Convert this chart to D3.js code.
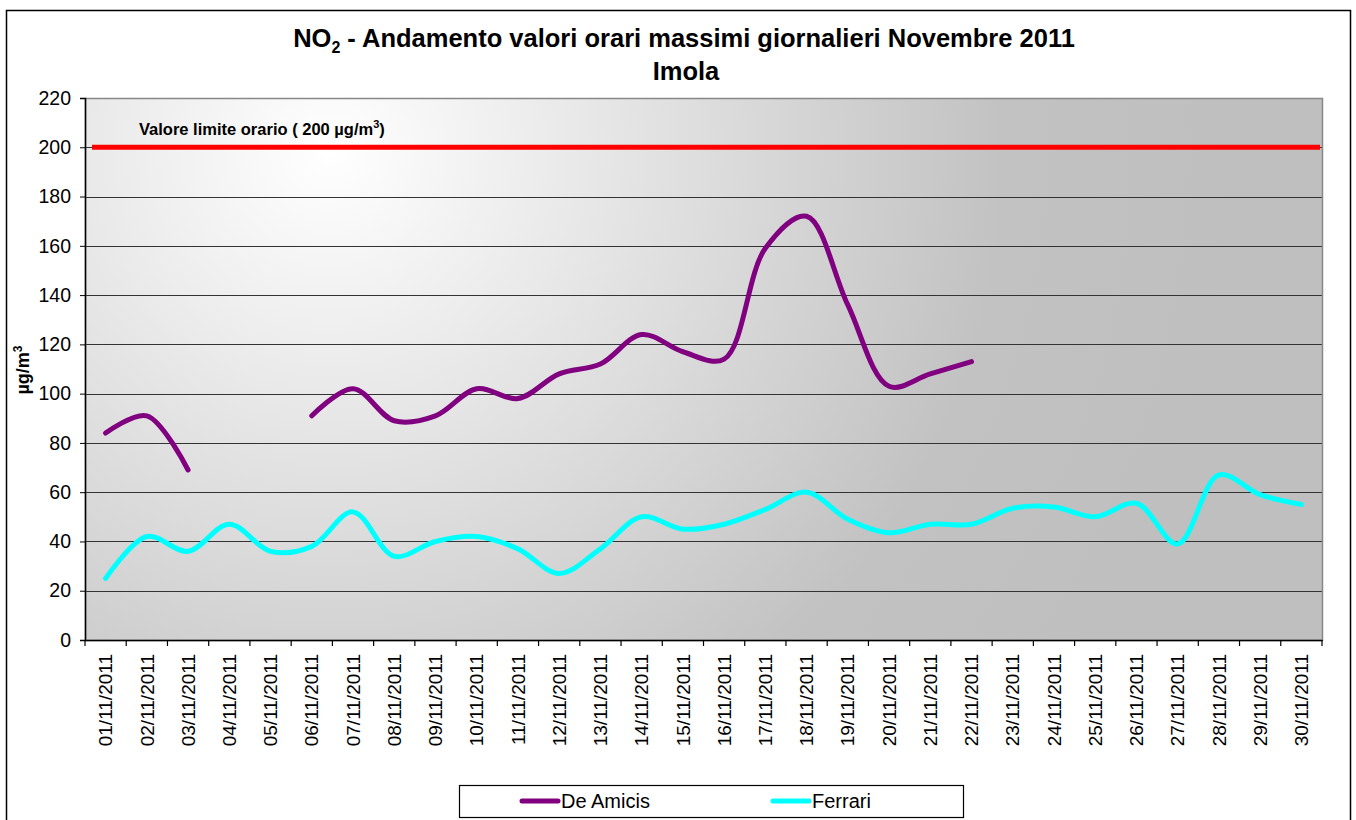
<!DOCTYPE html>
<html>
<head>
<meta charset="utf-8">
<script src="https://cdn.jsdelivr.net/npm/d3@7"></script>
<style>
  body { margin: 0; background: #fff; }
  svg { font-family: "Liberation Sans", Arial, sans-serif; }
</style>
</head>
<body>
<div id="chart"></div>
<script>
// dates 01..30 Nov 2011
const days = d3.range(1, 31).map(d => String(d).padStart(2, "0") + "/11/2011");

// daily max hourly NO2 (µg/m3), null = no data
const deAmicis = [84, 91, 69, null, null, 91, 102, 89, 91, 102,
                  98, 108, 112, 124, 117, 114, 159, 172, 136, 103,
                  108, 113, null, null, null, null, null, null, null, null];
const ferrari = [25, 42, 36, 47, 36, 38, 52, 34, 40, 42,
                 37, 27, 37, 50, 45, 47, 53, 60, 49, 43.5,
                 47, 47, 53.5, 54, 50, 55.5, 39, 67, 59, 55];

const limitValue = 200;
const yTicks = d3.range(0, 221, 20);

const W = 1356, H = 820;
const margin = {top: 98, right: 34, bottom: 180, left: 85};
const width = W - margin.left - margin.right,
      height = H - margin.top - margin.bottom;

const svg = d3.select("#chart").append("svg")
    .attr("width", W).attr("height", H);

// outer frame
svg.append("rect")
    .attr("x", 6.5).attr("y", 10.5)
    .attr("width", 1344).attr("height", 830)
    .attr("fill", "none").attr("stroke", "#000").attr("stroke-width", 1.5);

const defs = svg.append("defs");
const grad = defs.append("radialGradient")
    .attr("id", "bg").attr("gradientUnits", "userSpaceOnUse")
    .attr("cx", 330).attr("cy", 150).attr("r", 900);
grad.append("stop").attr("offset", "0%").attr("stop-color", "#ffffff");
grad.append("stop").attr("offset", "75%").attr("stop-color", "#c2c2c2");
grad.append("stop").attr("offset", "100%").attr("stop-color", "#bfbfbf");

const g = svg.append("g")
    .attr("transform", `translate(${margin.left},${margin.top})`);

const x = d3.scaleBand().domain(days).range([0, width]);
const y = d3.scaleLinear().domain([0, 220]).range([height, 0]);

g.append("rect")
    .attr("width", width).attr("height", height)
    .attr("fill", "url(#bg)").attr("transform", `translate(${-margin.left},${-margin.top})`)
    .attr("x", margin.left).attr("y", margin.top);

// gridlines
g.selectAll(".grid").data(yTicks.filter(t => t > 0 && t < 220)).enter()
  .append("line")
    .attr("x1", 0).attr("x2", width)
    .attr("y1", d => Math.round(y(d)) + 0.5).attr("y2", d => Math.round(y(d)) + 0.5)
    .attr("stroke", "#333").attr("stroke-width", 1.2);

// plot border (grey)
g.append("rect")
    .attr("x", 0.5).attr("y", 0.5)
    .attr("width", width).attr("height", height)
    .attr("fill", "none").attr("stroke", "#888").attr("stroke-width", 1.5);

// y axis
const yAxis = g.append("g")
    .call(d3.axisLeft(y).tickValues(yTicks).tickSize(5).tickPadding(9));
yAxis.select(".domain").attr("stroke", "#000").attr("stroke-width", 1.5);
yAxis.selectAll("text").attr("font-size", 19.5).attr("fill", "#000")
    .attr("font-family", "Liberation Sans, Arial, sans-serif");

// x axis
const xAxis = g.append("g")
    .attr("transform", `translate(0,${height})`)
    .call(d3.axisBottom(x).tickSize(0).tickPadding(0));
xAxis.select(".domain").attr("stroke", "#000").attr("stroke-width", 1.5);
xAxis.selectAll("text")
    .attr("font-size", 19).attr("fill", "#000")
    .attr("font-family", "Liberation Sans, Arial, sans-serif")
    .attr("transform", "rotate(-90)")
    .attr("text-anchor", "end")
    .attr("x", -14).attr("y", 0).attr("dy", "0.35em");
g.selectAll(".xtick").data(d3.range(0, days.length + 1)).enter()
  .append("line")
    .attr("x1", d => d * x.bandwidth()).attr("x2", d => d * x.bandwidth())
    .attr("y1", height).attr("y2", height + 6)
    .attr("stroke", "#000").attr("stroke-width", 1.2);

// limit line
g.append("line")
    .attr("x1", 7).attr("x2", width - 2)
    .attr("y1", y(limitValue)).attr("y2", y(limitValue))
    .attr("stroke", "#ff0000").attr("stroke-width", 5);
const lim = g.append("text")
    .attr("x", 54).attr("y", y(limitValue) - 12)
    .attr("font-size", 16.5).attr("font-weight", "bold").attr("fill", "#000");
lim.append("tspan").text("Valore limite orario ( 200 µg/m");
lim.append("tspan").attr("font-size", 11).attr("dy", -7).text("3");
lim.append("tspan").attr("dy", 7).text(")");

// series lines
const line = d3.line()
    .defined(d => d[1] != null)
    .x(d => x(d[0]) + x.bandwidth() / 2)
    .y(d => y(d[1]))
    .curve(d3.curveCatmullRom.alpha(0.5));

const series = [
  {name: "De Amicis", values: deAmicis, color: "#800080"},
  {name: "Ferrari", values: ferrari, color: "#00ffff"}
];
series.forEach(s => {
  g.append("path")
    .datum(days.map((d, i) => [d, s.values[i]]))
    .attr("d", line)
    .attr("fill", "none").attr("stroke", s.color)
    .attr("stroke-width", 5).attr("stroke-linecap", "round").attr("stroke-linejoin", "round");
});

// title
const title = svg.append("text")
    .attr("x", 684).attr("y", 47).attr("text-anchor", "middle")
    .attr("font-size", 25.5).attr("font-weight", "bold");
title.append("tspan").text("NO");
title.append("tspan").attr("font-size", 16).attr("dy", 6).text("2");
title.append("tspan").attr("dy", -6).text(" - Andamento valori orari massimi giornalieri Novembre 2011");
svg.append("text")
    .attr("x", 686).attr("y", 80).attr("text-anchor", "middle")
    .attr("font-size", 25.5).attr("font-weight", "bold").text("Imola");

// y label
const yl = svg.append("text")
    .attr("transform", "translate(29,370) rotate(-90)")
    .attr("text-anchor", "middle")
    .attr("font-size", 18).attr("font-weight", "bold");
yl.append("tspan").text("µg/m");
yl.append("tspan").attr("font-size", 12).attr("dy", -7).text("3");

// legend
const leg = svg.append("g");
leg.append("rect")
    .attr("x", 459.5).attr("y", 785.5).attr("width", 504).attr("height", 32)
    .attr("fill", "#fff").attr("stroke", "#000").attr("stroke-width", 1.2);
const legX = [522, 773];
series.forEach((s, i) => {
  leg.append("line")
    .attr("x1", legX[i]).attr("x2", legX[i] + 36)
    .attr("y1", 801).attr("y2", 801)
    .attr("stroke", s.color).attr("stroke-width", 5).attr("stroke-linecap", "round");
  leg.append("text")
    .attr("x", legX[i] + 39).attr("y", 808)
    .attr("font-size", 20).text(s.name);
});
</script>
</body>
</html>
